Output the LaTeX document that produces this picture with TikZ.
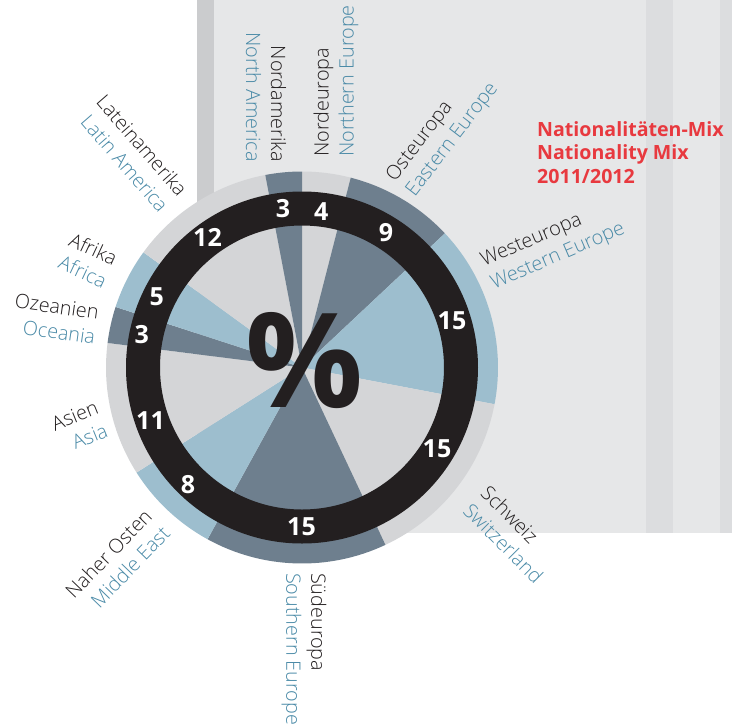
\documentclass[tikz,border=0pt]{standalone}
\usepackage{graphicx}
\usepackage{fontspec}
\setmainfont{Open Sans}
\IfFontExistsTF{Open Sans Light}{\newfontfamily\lbfont{Open Sans Light}}{\newfontfamily\lbfont{Open Sans}}
\IfFontExistsTF{Open Sans ExtraBold}{\newfontfamily\pcfont{Open Sans ExtraBold}}{\newcommand\pcfont{\bfseries}}
\definecolor{lgray}{HTML}{D4D5D7}
\definecolor{slate}{HTML}{6E7F8E}
\definecolor{lblue}{HTML}{9DBECE}
\definecolor{ringblack}{HTML}{231F20}
\definecolor{entext}{HTML}{4A8AA7}
\definecolor{detext}{HTML}{231F20}
\definecolor{panel}{HTML}{E6E7E8}
\definecolor{panelstrip}{HTML}{CBCCCE}
\definecolor{panelband}{HTML}{DCDDDF}
\definecolor{titlered}{HTML}{E8393F}
\newcommand\en[1]{\textcolor{entext}{#1}}
\newcommand\pieSector[3]{\fill[#1] (C) -- ++(#2:196) arc[start angle=#2,end angle=#3,radius=196] -- cycle;}
\tikzset{
  lbl/.style={inner sep=0pt, font=\lbfont\fontsize{19.8}{25}\selectfont, text=detext},
  num/.style={inner sep=0pt, text=white, font=\bfseries\fontsize{25}{25}\selectfont},
}
\begin{document}
\begin{tikzpicture}[x=1pt,y=1pt]
\useasboundingbox (0,0) rectangle (732,-724);
% background panel
\fill[panel] (197,0) rectangle (732,-533);
\fill[panelstrip] (197,0) rectangle (214,-533);
\fill[panelband] (646,0) rectangle (673,-533);
\fill[panelband] (720,0) rectangle (732,-533);
% pie
\coordinate (C) at (302,-367.5);
\pieSector{lgray}{90}{75.6}
\pieSector{slate}{75.6}{43.2}
\pieSector{lblue}{43.2}{-10.8}
\pieSector{lgray}{-10.8}{-64.8}
\pieSector{slate}{-64.8}{-118.8}
\pieSector{lblue}{-118.8}{-147.6}
\pieSector{lgray}{-147.6}{-187.2}
\pieSector{slate}{-187.2}{-198}
\pieSector{lblue}{-198}{-216}
\pieSector{lgray}{-216}{-259.2}
\pieSector{slate}{-259.2}{-270}
\fill[ringblack, even odd rule] (C) circle[radius=176] (C) circle[radius=142];
% numbers
\node[num] (v1) at (321.3,-211.7) {4};
\node[num] (v2) at (386,-233) {9};
\node[num] (v3) at (452,-321) {15};
\node[num] (v4) at (437,-449) {15};
\node[num] (v5) at (301.5,-527) {15};
\node[num] (v6) at (188,-485) {8};
\node[num] (v7) at (150.5,-421) {11};
\node[num] (v8) at (141.7,-335) {3};
\node[num] (v9) at (156.7,-296.7) {5};
\node[num] (v10) at (207.5,-237.5) {12};
\node[num] (v11) at (283,-208.5) {3};
% percent sign
\node[inner sep=0pt, text=ringblack] (pct) at (304.5,-360.5) {\resizebox{118pt}{95pt}{\pcfont\%}};
% labels
\node[lbl, rotate=-90, anchor=east, align=right] (namer) at (266,-162) {Nordamerika\\\en{North America}};
\node[lbl, rotate=90, anchor=west, align=left] (neur) at (336,-157) {Nordeuropa\\\en{Northern Europe}};
\node[lbl, rotate=52.5, anchor=west, align=left] (oeur) at (401,-187) {Osteuropa\\\en{Eastern Europe}};
\node[lbl, rotate=23.4, anchor=west, align=left] (weur) at (487,-274) {Westeuropa\\\en{Western Europe}};
\node[lbl, rotate=-45, anchor=west, align=left] (ch) at (476,-498) {Schweiz\\\en{Switzerland}};
\node[lbl, rotate=-90, anchor=west, align=left] (seur) at (304,-573) {Südeuropa\\\en{Southern Europe}};
\node[lbl, rotate=46, anchor=east, align=right] (me) at (157,-521) {Naher Osten\\\en{Middle East}};
\node[lbl, rotate=22, anchor=east, align=right] (asia) at (102,-418) {Asien\\\en{Asia}};
\node[lbl, rotate=-8, anchor=east, align=right] (oce) at (97,-325) {Ozeanien\\\en{Oceania}};
\node[lbl, rotate=-25, anchor=east, align=right] (afr) at (111,-271) {Afrika\\\en{Africa}};
\node[lbl, rotate=-49, anchor=east, align=right] (lat) at (174,-201) {Lateinamerika\\\en{Latin America}};
% title
\node[inner sep=0pt, anchor=north west, align=left, text=titlered, font=\bfseries\fontsize{19.6}{23.5}\selectfont] (title) at (537,-121) {Nationalitäten-Mix\\Nationality Mix\\2011/2012};
\end{tikzpicture}
\end{document}
